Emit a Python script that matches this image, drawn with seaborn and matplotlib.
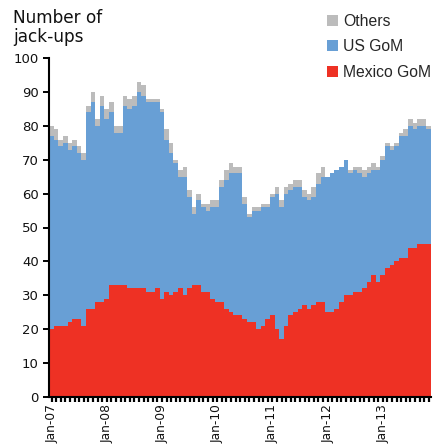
import numpy as np
import pandas as pd
import matplotlib
matplotlib.use("Agg")
import matplotlib.pyplot as plt
import seaborn as sns

# Jack-up rigs working, monthly, Jan 2007 - Nov 2013
mexico_gom = [20, 21, 21, 21, 22, 23, 23, 21, 26, 26, 28, 28,
              29, 33, 33, 33, 33, 32, 32, 32, 32, 31, 31, 32,
              29, 31, 30, 31, 32, 30, 32, 33, 33, 31, 31, 29,
              28, 28, 26, 25, 24, 24, 23, 22, 22, 20, 21, 23,
              24, 20, 17, 21, 24, 25, 26, 27, 26, 27, 28, 28,
              25, 25, 26, 28, 30, 30, 31, 31, 32, 34, 36, 34,
              36, 38, 39, 40, 41, 41, 44, 44, 45, 45, 45]
us_gom = [57, 55, 53, 54, 51, 51, 49, 49, 58, 61, 52, 58,
          53, 51, 45, 45, 53, 53, 54, 58, 57, 56, 56, 55,
          55, 45, 42, 38, 33, 35, 27, 21, 25, 25, 24, 27,
          28, 34, 38, 41, 42, 42, 34, 31, 33, 35, 35, 33,
          35, 40, 39, 39, 37, 37, 36, 32, 32, 32, 35, 37,
          40, 41, 41, 40, 40, 36, 36, 35, 33, 32, 31, 33,
          34, 36, 34, 34, 36, 36, 36, 35, 35, 35, 34]
others = [3, 3, 2, 2, 2, 2, 2, 2, 2, 3, 2, 3,
          3, 3, 2, 2, 3, 3, 3, 3, 3, 1, 1, 1,
          1, 3, 3, 1, 2, 3, 2, 2, 2, 1, 2, 2,
          2, 2, 3, 3, 2, 2, 2, 1, 1, 1, 1, 1,
          1, 2, 2, 2, 2, 2, 2, 2, 2, 3, 3, 3,
          0, 0, 0, 0, 0, 1, 1, 2, 2, 2, 2, 1,
          1, 1, 1, 1, 1, 2, 2, 2, 2, 2, 1]
regions = ["Others", "US GoM", "Mexico GoM"]
colors = ["#BCBCBC", "#689FD5", "#EE3124"]
year_labels = ["Jan-07", "Jan-08", "Jan-09", "Jan-10", "Jan-11", "Jan-12", "Jan-13"]

n_months = len(mexico_gom)
df = pd.DataFrame({
    "month": np.tile(np.arange(n_months) + 0.5, 3),
    "region": np.repeat(regions, n_months),
    "rigs": np.concatenate([others, us_gom, mexico_gom]),
})

sns.set_theme(style="white")
plt.rcParams["font.family"] = ["DejaVu Sans"]

W, H = 434, 445
fig = plt.figure(figsize=(W / 100, H / 100), dpi=100)
ax_left, ax_bottom = 49.3, 396.7
px_month = 4.6
ax = fig.add_axes([ax_left / W, (H - ax_bottom) / H,
                   px_month * n_months / W, (ax_bottom - 58.3) / H])

sns.histplot(data=df, x="month", weights="rigs", hue="region",
             hue_order=regions, palette=colors, multiple="stack",
             binwidth=1, binrange=(0, n_months), element="step",
             alpha=1, linewidth=0, ax=ax)

ax.set_xlim(0, n_months)
ax.set_ylim(0, 100)
ax.set_xlabel("")
ax.set_ylabel("")

ax.set_yticks(np.arange(0, 101, 10))
ax.set_xticks(np.arange(0, n_months, 12) + 0.5)
ax.set_xticklabels(year_labels, rotation=90, fontsize=8.8)
ax.set_xticks(np.arange(n_months) + 0.5, minor=True)
ax.tick_params(axis="y", labelsize=9.5, length=4, width=1.4, pad=3.5,
               color="black", labelcolor="#111111", left=True)
ax.tick_params(axis="x", which="both", length=3.5, width=1.6, pad=2,
               color="black", labelcolor="#111111", bottom=True)

for side in ("top", "right"):
    ax.spines[side].set_visible(False)
for side in ("left", "bottom"):
    ax.spines[side].set_color("black")
    ax.spines[side].set_linewidth(1.5)

fig.text(13 / W, 1 - 9 / H, "Number of\njack-ups", ha="left", va="top",
         fontsize=12.2, color="#111111", linespacing=1.08)

sns.move_legend(ax, loc="upper left", bbox_to_anchor=(327 / W, 1 - 13.5 / H),
                bbox_transform=fig.transFigure, frameon=False, title=None,
                borderaxespad=0, borderpad=0, handlelength=0.7,
                handleheight=0.7, handletextpad=0.33, labelspacing=0.7,
                prop={"family": "Liberation Sans", "size": 11.3})

fig.savefig("out.png", dpi=100, facecolor="white")
